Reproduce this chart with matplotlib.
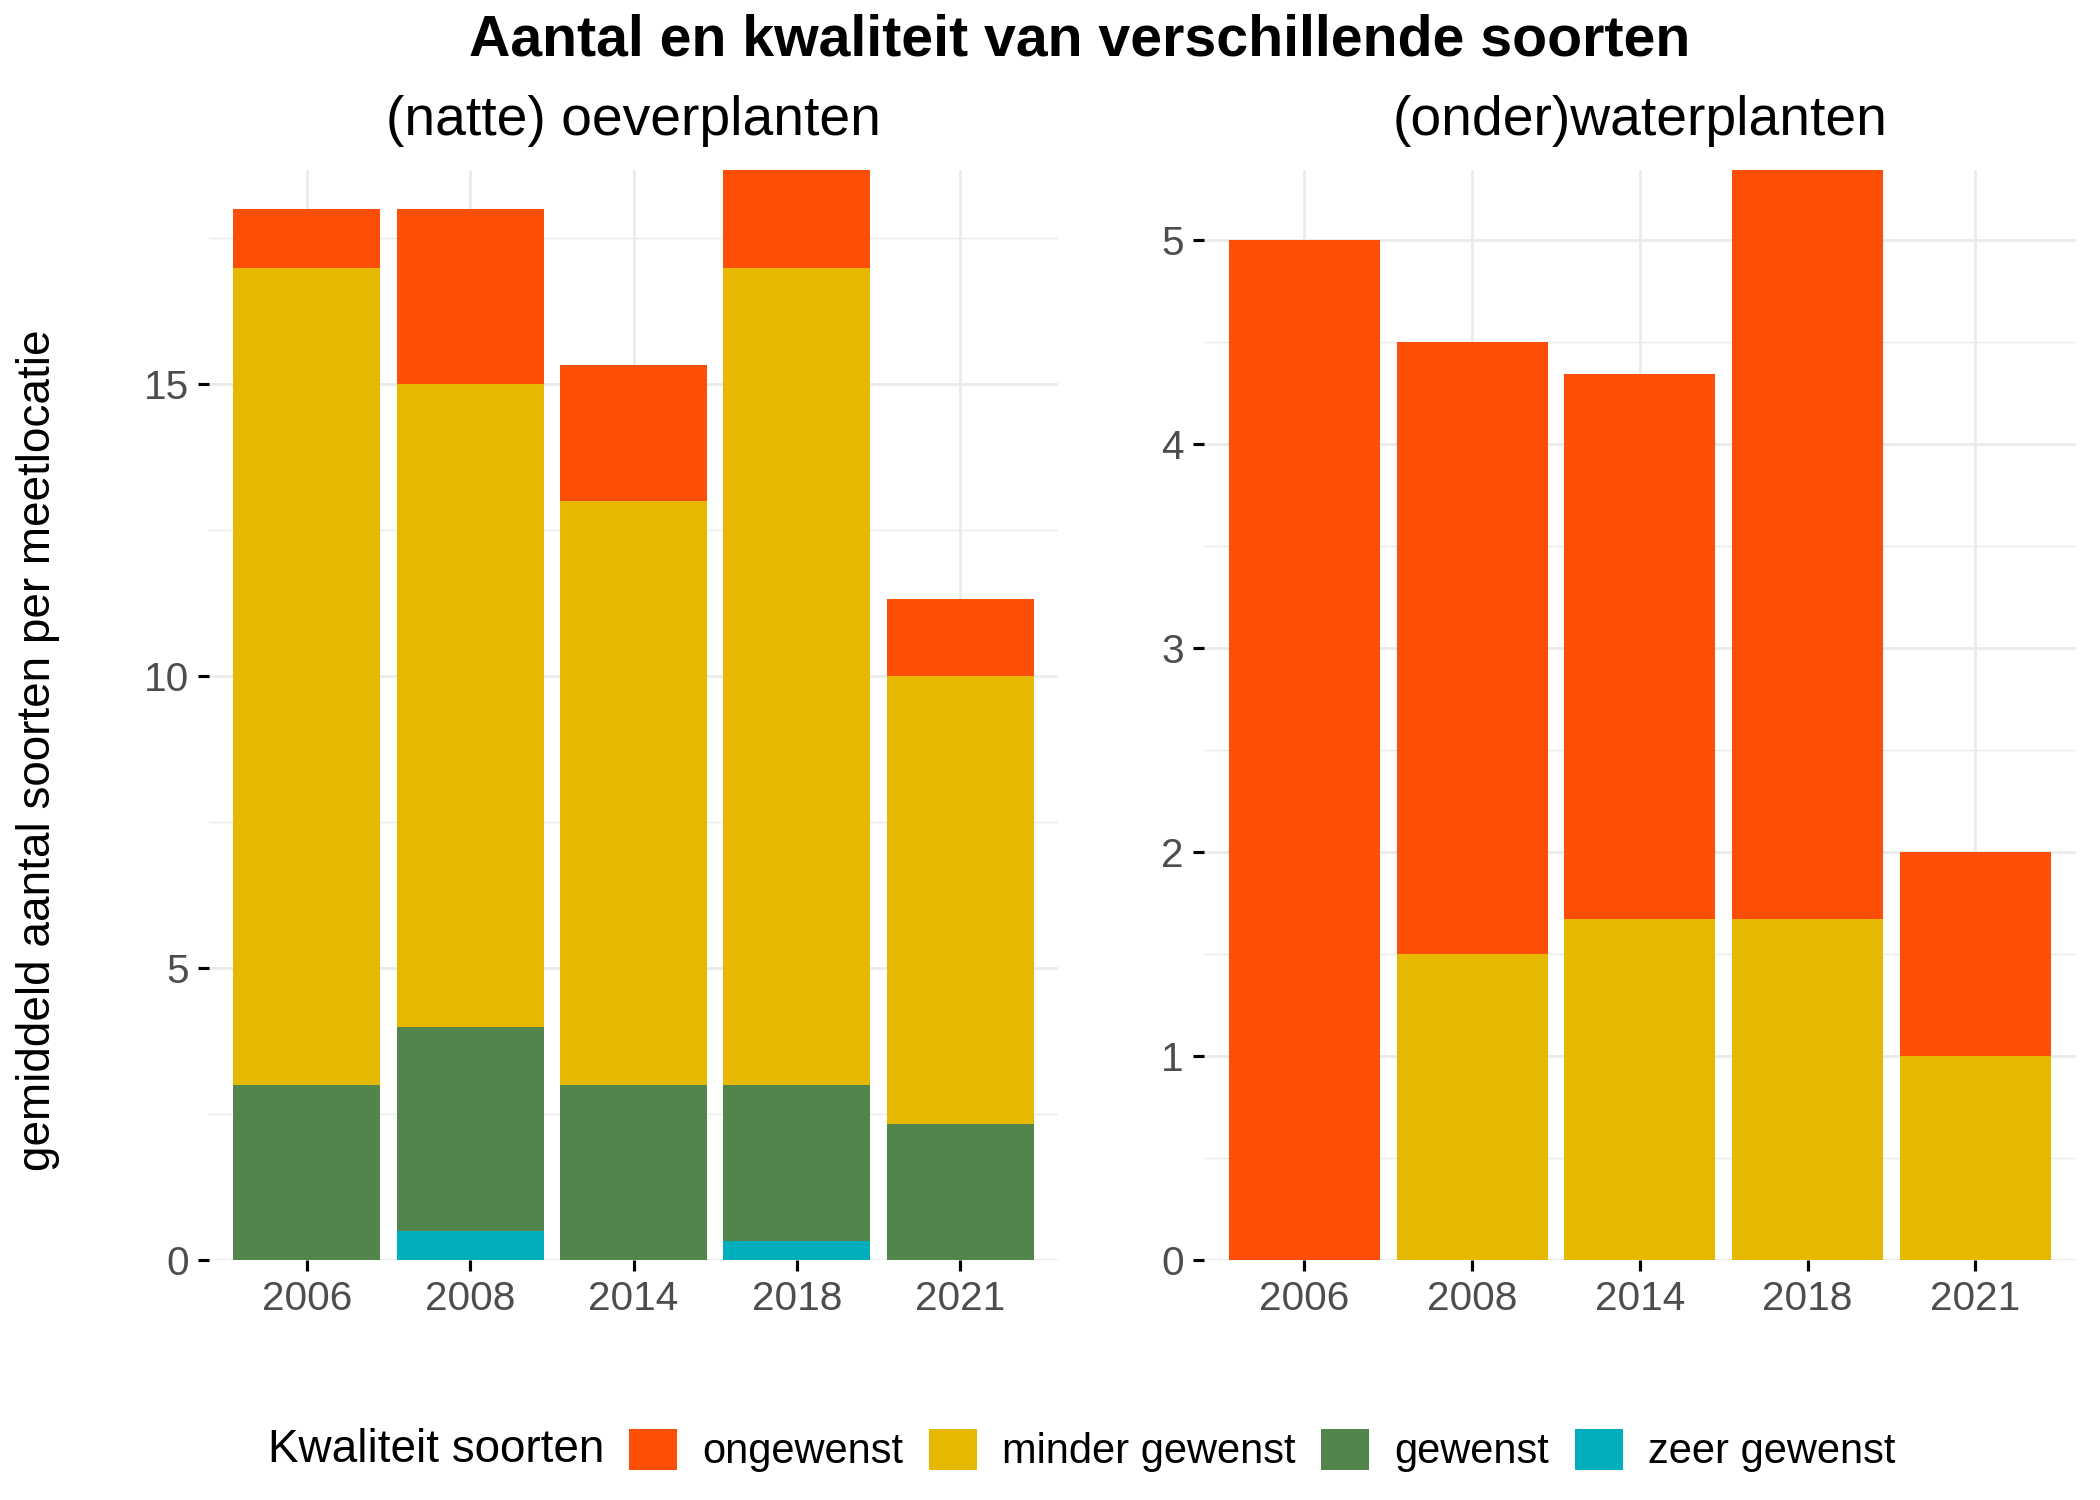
import numpy as np
import matplotlib
matplotlib.use('Agg')
import matplotlib.pyplot as plt
from matplotlib.ticker import MultipleLocator

plt.rcParams['font.family'] = ['Liberation Sans', 'DejaVu Sans']

# data (gemiddeld aantal soorten per meetlocatie)
jaren = ['2006', '2008', '2014', '2018', '2021']

oever_zeer_gewenst = [0, 0.5, 0, 0.33, 0]
oever_gewenst = [3, 3.5, 3, 2.67, 2.33]
oever_minder_gewenst = [14, 11, 10, 14, 7.67]
oever_ongewenst = [1, 3, 2.33, 1.67, 1.33]

water_zeer_gewenst = [0, 0, 0, 0, 0]
water_gewenst = [0, 0, 0, 0, 0]
water_minder_gewenst = [0, 1.5, 1.67, 1.67, 1]
water_ongewenst = [5, 3, 2.67, 3.67, 1]

labels = ['zeer gewenst', 'gewenst', 'minder gewenst', 'ongewenst']
kleuren = ['#00AFBB', '#52854C', '#E7B800', '#FC4E07']

fig = plt.figure(figsize=(14, 10), dpi=150)
ax1 = fig.add_axes([0.0994, 0.1598, 0.4046, 0.7268])
ax2 = fig.add_axes([0.5732, 0.1598, 0.4154, 0.7268])


def stacked(ax, series, titel, minor):
    x = np.arange(len(jaren))
    bottom = np.zeros(len(jaren))
    handles = []
    for vals, lab, col in zip(series, labels, kleuren):
        vals = np.array(vals, dtype=float)
        b = ax.bar(x, vals, 0.9, bottom=bottom, color=col, label=lab,
                   linewidth=0, zorder=2)
        handles.append(b)
        bottom += vals
    ax.set_xlim(-0.6, len(jaren) - 0.4)
    ax.set_ylim(0, bottom.max())
    ax.set_xticks(x)
    ax.set_xticklabels(jaren)
    ax.yaxis.set_minor_locator(MultipleLocator(minor))
    ax.grid(True, which='major', color='#EBEBEB', lw=1.3, zorder=0)
    ax.grid(True, which='minor', axis='y', color='#EBEBEB', lw=0.7, zorder=0)
    for s in ax.spines.values():
        s.set_visible(False)
    ax.tick_params(which='major', length=5.5, width=1.5, color='black',
                   labelcolor='#4D4D4D', labelsize=19.5, pad=4)
    ax.tick_params(which='minor', length=0)
    ax.set_title(titel, fontsize=26.5, pad=17)
    return handles


h = stacked(ax1, [oever_zeer_gewenst, oever_gewenst, oever_minder_gewenst, oever_ongewenst],
            '(natte) oeverplanten', 2.5)
ax1.yaxis.set_major_locator(MultipleLocator(5))
stacked(ax2, [water_zeer_gewenst, water_gewenst, water_minder_gewenst, water_ongewenst],
        '(onder)waterplanten', 0.5)
ax2.yaxis.set_major_locator(MultipleLocator(1))

fig.text(0.514, 0.973, 'Aantal en kwaliteit van verschillende soorten',
         ha='center', va='center', fontsize=27.5, fontweight='bold')
fig.text(0.018, 0.5, 'gemiddeld aantal soorten per meetlocatie', rotation=90,
         ha='center', va='center', fontsize=22)

# legend
fig.text(200 / 1568, 0.033, 'Kwaliteit soorten', ha='left', va='center', fontsize=22)
fig.legend(h[::-1], labels[::-1], loc='center left', bbox_to_anchor=(470 / 1568, 0.033),
           ncol=4, frameon=False, fontsize=20, handlelength=1.15, handleheight=1.15,
           handletextpad=0.6, columnspacing=0.62, borderpad=0, borderaxespad=0)

plt.savefig('out.png', dpi=150)
